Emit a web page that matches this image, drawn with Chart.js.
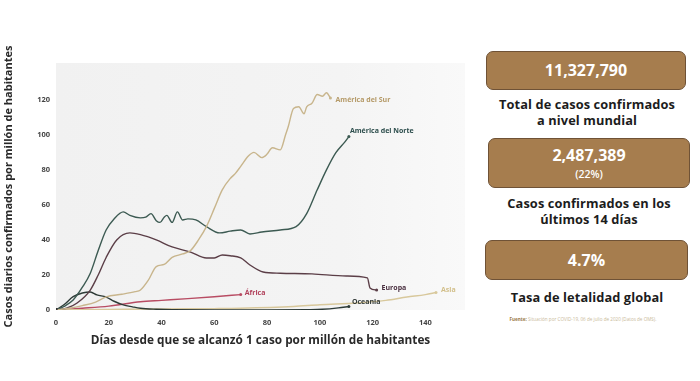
<!DOCTYPE html>
<html><head><meta charset="utf-8">
<script src="https://cdn.jsdelivr.net/npm/chart.js@4/dist/chart.umd.min.js"></script>
<style>
html,body{margin:0;padding:0;background:#fff;width:700px;height:381px;overflow:hidden;font-family:"Open Sans",sans-serif;}
#wrap{position:absolute;left:0;top:0;width:480px;height:381px;}
.box{position:absolute;background:#a67d4e;border:1.5px solid #6f5236;border-radius:7px;box-sizing:border-box;color:#fff;text-align:center;font-weight:700;}
.lbl{position:absolute;text-align:center;font-weight:700;color:#1c1c1c;font-size:12.8px;line-height:16px;letter-spacing:0.1px;}
</style></head><body>
<div id="wrap"><canvas id="c" width="480" height="381"></canvas></div>
<div class="box" style="left:486px;top:51px;width:200px;height:39px;"><div style="font-size:16px;line-height:37px;">11,327,790</div></div>
<div class="lbl" style="left:480px;top:96px;width:214px;">Total de casos confirmados<br>a nivel mundial</div>
<div class="box" style="left:488px;top:138px;width:202px;height:50px;"><div style="font-size:16px;line-height:20px;margin-top:6px;">2,487,389</div><div style="font-size:10.5px;line-height:14px;margin-top:2px;font-weight:600;">(22%)</div></div>
<div class="lbl" style="left:482px;top:195px;width:214px;">Casos confirmados en los<br>últimos 14 días</div>
<div class="box" style="left:485px;top:240px;width:203px;height:40px;"><div style="font-size:16px;line-height:38px;">4.7%</div></div>
<div class="lbl" style="left:480px;top:289px;width:214px;">Tasa de letalidad global</div>
<div style="position:absolute;left:488px;top:316px;width:190px;text-align:center;font-size:4.6px;color:#c9b999;"><b style="color:#9a7a48">Fuente:</b> Situación por COVID-19, 06 de julio de 2020 (Datos de OMS).</div>
<script>
const surDays = [0,5,10,15,19,25,30,32,35,38,41,44,48,51,54,57,60,63,66,68,70,73,75,78,80,82,85,87,88,90,92,94,95,97,99,101,102.5,104];
const surVals = [0,1,2.5,4.5,7.5,9,10.5,11.4,17,24.8,26,30,32,34,40,47.6,58,68.6,75,78,82,88,90,87,89,92.6,91.4,100,104.6,115,116,112,116,118,123,122,124,121];

const norteDays = [0,3,6.5,10,13,16,19,22,25.5,28,32,34,36,38,39.4,41,42,44,46,48,50,53,57,62,66,70,73.5,78,85,91,95,99,102.5,106,109.5,111];
const norteVals = [0,2,5.7,13,21,34,45.7,52,56,54,52.6,53,55,51,50,53,54,50,56,51.4,52,51.4,47.6,44,45,45.7,43.4,44.5,45.7,47.6,55,68.6,80,89.7,96,99];

const europaDays = [0,4,8,13,16,19,23,28,32,38,44,51,57,60,63,66,70,73.5,78.5,85,97,110,118,119,121.5];
const europaVals = [0,1,4,11.4,20,30,40,44,43,40,36,33,29.7,29.7,31.4,31,29.7,25.7,21.7,21,20.6,19.4,18.3,12.6,11.4];

const oceaniaDays = [0,3,6.5,10,13,15.5,19,22,25.5,29,32,38,44,60,80,95,101,107,111];
const oceaniaVals = [0,3,7.6,9.7,10.3,8.6,7.4,5,2.9,1.8,1,0.4,0.1,0,0,0.2,0.4,1.2,2];

const asiaDays = [0,20,40,60,70,90,100,114,125,133,140,144];
const asiaVals = [0,0.3,0.6,0.8,1,2,3,4,5.5,7.4,8.8,10];

const africaDays = [0,10,20,32,40,50,60,70];
const africaVals = [0,1,2.2,4.7,5.5,6.5,7.6,8.8];

const regionNames = ["América del Sur","América del Norte","Europa","Oceania","Asia","África"];
const yTicks = [0,20,40,60,80,100,120];
const xTicks = [0,20,40,60,80,100,120,140];

const seriesDays = [surDays, norteDays, europaDays, oceaniaDays, asiaDays, africaDays];
const seriesVals = [surVals, norteVals, europaVals, oceaniaVals, asiaVals, africaVals];
const lineColors = ["#c8b58c","#3c5a52","#5b3e47","#2e3b37","#d8c89c","#b84c63"];
const labelColors = ["#b59a68","#2c4d4c","#4a3040","#333a38","#d2bf8a","#b0405a"];
const labelOffsets = [[5,2],[1,-6],[5,-2],[3,-4],[5,-2],[4,-2]];

const datasets = regionNames.map((n,i)=>({
  label:n,
  data: seriesDays[i].map((d,j)=>({x:d,y:seriesVals[i][j]})),
  borderColor: lineColors[i],
  borderWidth: 1.4,
  cubicInterpolationMode: 'monotone',
  pointRadius: ctx => (ctx.dataIndex===seriesDays[i].length-1 ? 1.5 : (ctx.dataIndex===0?1.8:0)),
  pointBackgroundColor: ctx => ctx.dataIndex===0 ? "#333" : lineColors[i],
  pointBorderWidth: 0,
  fill:false
}));

const bgPlugin = {
  id:'bg',
  beforeDraw(chart){
    const {ctx, chartArea:a} = chart;
    const g = ctx.createLinearGradient(a.left,0,a.right,0);
    g.addColorStop(0,'#f1f1f1'); g.addColorStop(0.7,'#f4f4f4'); g.addColorStop(1,'#f9f9f9');
    ctx.save(); ctx.fillStyle=g; ctx.fillRect(a.left,a.top,a.right-a.left,a.bottom-a.top); ctx.restore();
  }
};
const labelPlugin = {
  id:'endLabels',
  afterDatasetsDraw(chart){
    const ctx = chart.ctx;
    ctx.save();
    ctx.font = '700 7px "Open Sans"';
    ctx.textBaseline='middle';
    chart.data.datasets.forEach((ds,i)=>{
      const meta = chart.getDatasetMeta(i);
      const p = meta.data[meta.data.length-1];
      ctx.fillStyle = labelColors[i];
      ctx.fillText(ds.label, p.x+labelOffsets[i][0], p.y+labelOffsets[i][1]);
    });
    ctx.restore();
  }
};

new Chart(document.getElementById('c'),{
  type:'line',
  data:{datasets},
  plugins:[bgPlugin,labelPlugin],
  options:{
    responsive:false, animation:false,
    layout:{padding:{top:63,right:15,bottom:31,left:0}},
    plugins:{legend:{display:false},tooltip:{enabled:false}},
    scales:{
      x:{type:'linear',min:0,max:155,
        grid:{display:false,drawTicks:false},border:{display:false},
        afterBuildTicks(s){ s.ticks = xTicks.map(v=>({value:v})); },
        ticks:{padding:8,color:'#444',font:{family:'Open Sans',weight:'700',size:7.5},maxRotation:0},
        afterFit(s){ s.height = 40; },
        title:{display:true,text:'Días desde que se alcanzó 1 caso por millón de habitantes',color:'#2a2a2a',font:{family:'Open Sans',weight:'700',size:11.8},padding:{top:0,bottom:2}}
      },
      y:{min:0,max:141,
        grid:{display:false,drawTicks:false},border:{display:false},
        afterBuildTicks(s){ s.ticks = yTicks.map(v=>({value:v})); },
        ticks:{padding:6,color:'#444',font:{family:'Open Sans',weight:'700',size:7.5}},
        afterFit(s){ s.width = 56; },
        title:{display:true,text:'Casos diarios confirmados por millón de habitantes',color:'#2a2a2a',font:{family:'Open Sans',weight:'700',size:11},padding:{top:2,bottom:0}}
      }
    }
  }
});
</script>
</body></html>
